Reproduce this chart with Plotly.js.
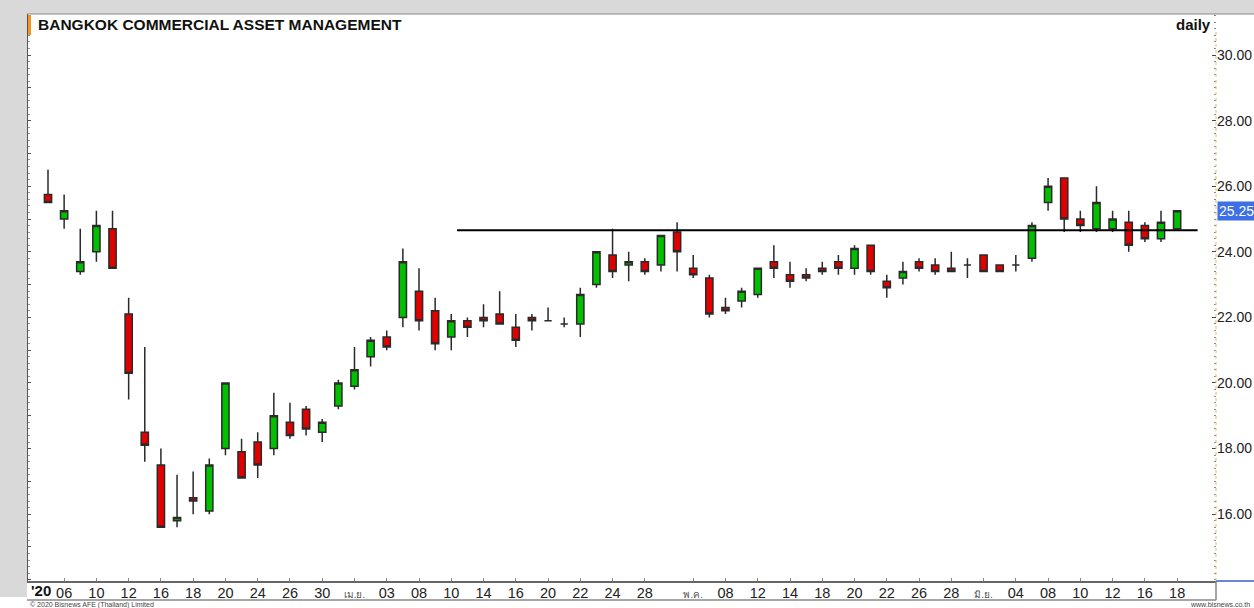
<!DOCTYPE html>
<html>
<head>
<meta charset="utf-8">
<script src="https://cdn.plot.ly/plotly-3.0.1.min.js"></script>
<style>html,body{margin:0;padding:0;background:#fff;}#chart{width:1254px;height:608px;}</style>
</head>
<body>
<div id="chart"></div>
<script>
const dates = ["2020-03-05","2020-03-06","2020-03-09","2020-03-10","2020-03-11","2020-03-12","2020-03-13","2020-03-16","2020-03-17","2020-03-18","2020-03-19","2020-03-20","2020-03-23","2020-03-24","2020-03-25","2020-03-26","2020-03-27","2020-03-30","2020-03-31","2020-04-01","2020-04-02","2020-04-03","2020-04-07","2020-04-08","2020-04-09","2020-04-10","2020-04-13","2020-04-14","2020-04-15","2020-04-16","2020-04-17","2020-04-20","2020-04-21","2020-04-22","2020-04-23","2020-04-24","2020-04-27","2020-04-28","2020-04-29","2020-04-30","2020-05-05","2020-05-07","2020-05-08","2020-05-11","2020-05-12","2020-05-13","2020-05-14","2020-05-15","2020-05-18","2020-05-19","2020-05-20","2020-05-21","2020-05-22","2020-05-25","2020-05-26","2020-05-27","2020-05-28","2020-05-29","2020-06-01","2020-06-02","2020-06-04","2020-06-05","2020-06-08","2020-06-09","2020-06-10","2020-06-11","2020-06-12","2020-06-15","2020-06-16","2020-06-17","2020-06-18"];
const openP  = [25.75,25.0,23.4,24.0,24.7,22.1,18.5,17.5,15.8,16.5,16.1,18.0,17.9,18.2,18.0,18.8,19.2,18.5,19.3,19.9,20.8,21.4,22.0,22.8,22.2,21.4,21.9,22.0,22.1,21.7,22.0,21.9,21.8,21.8,23.0,23.9,23.6,23.7,23.6,24.6,23.5,23.2,22.3,22.5,22.7,23.7,23.3,23.3,23.5,23.7,23.5,24.2,23.1,23.2,23.7,23.6,23.5,23.6,23.9,23.6,23.6,23.8,25.5,26.25,25.0,24.7,24.7,24.9,24.8,24.4,24.7];
const highP  = [26.5,25.75,24.7,25.25,25.25,22.6,21.1,18.0,17.2,17.3,17.7,20.0,18.3,18.5,19.7,19.4,19.3,18.9,20.1,21.1,21.4,21.6,24.1,23.5,22.6,22.1,22.0,22.4,22.8,22.1,22.1,22.3,22.0,22.9,24.0,24.7,24.0,23.8,24.5,24.9,23.9,23.3,22.6,22.9,23.5,24.2,23.7,23.5,23.7,23.9,24.2,24.2,23.3,23.7,23.8,23.8,24.0,23.8,23.9,23.6,23.9,24.9,26.25,26.25,25.25,26.0,25.25,25.25,24.9,25.25,25.25];
const lowP   = [25.5,24.7,23.3,23.7,23.5,19.5,17.6,15.6,15.6,16.0,16.0,17.8,17.1,17.1,17.8,18.3,18.4,18.2,19.2,19.8,20.5,21.0,21.7,21.6,21.0,21.0,21.4,21.7,21.8,21.1,21.6,21.9,21.7,21.4,22.9,23.2,23.1,23.3,23.4,23.4,23.2,22.0,22.1,22.3,22.6,23.2,22.9,23.1,23.3,23.3,23.3,23.3,22.6,23.0,23.4,23.3,23.4,23.2,23.4,23.4,23.4,23.7,25.25,24.6,24.6,24.6,24.6,24.0,24.3,24.3,24.7];
const closeP = [25.5,25.25,23.7,24.8,23.5,20.3,18.1,15.6,15.9,16.4,17.5,20.0,17.1,17.5,19.0,18.4,18.6,18.8,20.0,20.4,21.3,21.1,23.7,21.9,21.2,21.9,21.7,21.9,21.8,21.3,21.9,21.9,21.8,22.7,24.0,23.4,23.7,23.4,24.5,24.0,23.3,22.1,22.2,22.8,23.5,23.5,23.1,23.2,23.4,23.5,24.1,23.4,22.9,23.4,23.5,23.4,23.4,23.6,23.4,23.4,23.6,24.8,26.0,25.0,24.8,25.5,25.0,24.2,24.4,24.9,25.25];

const yearLabel = "'20";
const tickDates = ["2020-03-06","2020-03-10","2020-03-12","2020-03-16","2020-03-18","2020-03-20","2020-03-24","2020-03-26","2020-03-30","2020-04-01","2020-04-03","2020-04-08","2020-04-10","2020-04-14","2020-04-16","2020-04-20","2020-04-22","2020-04-24","2020-04-28","2020-05-05","2020-05-08","2020-05-12","2020-05-14","2020-05-18","2020-05-20","2020-05-22","2020-05-26","2020-05-28","2020-06-01","2020-06-04","2020-06-08","2020-06-10","2020-06-12","2020-06-16","2020-06-18"];
const tickLabels = ["06","10","12","16","18","20","24","26","30","เม.ย.","03","08","10","14","16","20","22","24","28","พ.ค.","08","12","14","18","20","22","26","28","มิ.ย.","04","08","10","12","16","18"];
const monthLabels = ["เม.ย.","พ.ค.","มิ.ย."];
const yTicks = [16,18,20,22,24,26,28,30];
const resistance = 24.66;
const lastPrice = 25.25;
const titleText = "BANGKOK COMMERCIAL ASSET MANAGEMENT";

const tickText = tickLabels.map(t => monthLabels.includes(t) ? '<span style="font-size:10px;color:#555">' + t + '</span>' : t);

const F = '"Liberation Sans", Arial, "DejaVu Sans", sans-serif';
// plot area in px: x 28..1216, y 14..581
const W = 1188, H = 567;
const px = x => (x - 28) / W;
const py = y => (581 - y) / H;

const trace = {
  type: 'candlestick',
  x: dates, open: openP, high: highP, low: lowP, close: closeP,
  increasing: {fillcolor: '#00c000', line: {color: '#2a2a2a', width: 1.5}},
  decreasing: {fillcolor: '#e00000', line: {color: '#2a2a2a', width: 1.5}},
  whiskerwidth: 0,
  hoverinfo: 'skip',
  showlegend: false
};

const layout = {
  width: 1254, height: 608,
  margin: {l: 28, r: 38, t: 14, b: 27, pad: 0},
  paper_bgcolor: '#ffffff', plot_bgcolor: '#ffffff',
  font: {family: F, size: 14, color: '#222'},
  boxgap: 0.36,
  showlegend: false,
  xaxis: {
    type: 'category', range: [-1.24, 72.41],
    tickvals: tickDates, ticktext: tickText,
    ticks: 'inside', ticklen: 3, tickcolor: '#888',
    ticklabelstandoff: -2,
    showgrid: false, zeroline: false,
    showline: true, linecolor: '#666', linewidth: 1.5,
    tickfont: {family: F, size: 14.5, color: '#222'},
    tickangle: 0,
    rangeslider: {visible: false},
    fixedrange: true
  },
  yaxis: {
    side: 'right', range: [13.963, 31.25],
    tickvals: yTicks, tickformat: '.2f',
    ticks: 'inside', ticklen: 4, tickcolor: '#444',
    minor: {dtick: 0.2, tick0: 0, ticks: 'inside', ticklen: 2, tickcolor: '#888', showgrid: false},
    showgrid: false, zeroline: false, showline: false,
    tickfont: {family: F, size: 14, color: '#222'},
    fixedrange: true
  },
  yaxis2: {
    overlaying: 'y', side: 'left', range: [13.963, 31.25],
    dtick: 1, tick0: 0, ticks: 'inside', ticklen: 3, tickcolor: '#555',
    minor: {dtick: 0.2, tick0: 0, ticks: 'inside', ticklen: 1.5, tickcolor: '#999', showgrid: false},
    showticklabels: false, showgrid: false, zeroline: false,
    showline: true, linecolor: '#555', linewidth: 1.5,
    fixedrange: true
  },
  shapes: [
    {type: 'rect', xref: 'paper', yref: 'paper', x0: px(0), x1: px(27), y0: py(597), y1: py(0), fillcolor: '#d9d9d9', line: {width: 0}, layer: 'above'},
    {type: 'rect', xref: 'paper', yref: 'paper', x0: px(0), x1: px(1254), y0: py(14), y1: py(0), fillcolor: '#d9d9d9', line: {width: 0}, layer: 'above'},
    {type: 'line', xref: 'paper', yref: 'paper', x0: px(27), x1: px(1254), y0: py(14), y1: py(14), line: {color: '#888', width: 1}},
    {type: 'line', xref: 'paper', yref: 'paper', x0: px(27), x1: px(1216), y0: py(600), y1: py(600), line: {color: '#888', width: 1.5}},
    {type: 'line', xref: 'paper', yref: 'paper', x0: 1, x1: 1, y0: py(600), y1: py(581), line: {color: '#888', width: 1.5}},
    {type: 'line', xref: 'paper', yref: 'paper', x0: 1, x1: px(1254), y0: py(581), y1: py(581), line: {color: '#3b5bc4', width: 1.5}},
    {type: 'line', xref: 'paper', yref: 'paper', x0: 1, x1: 1, y0: 0, y1: py(30), line: {color: '#e3bf63', width: 1, dash: 'dot'}},
    {type: 'rect', xref: 'paper', yref: 'paper', x0: px(28), x1: px(31), y0: py(35), y1: py(15), fillcolor: '#f7941d', line: {width: 0}},
    {type: 'line', xref: 'x', yref: 'y', x0: 25.36, x1: 71.27, y0: resistance, y1: resistance, line: {color: '#000', width: 2}}
  ],
  annotations: [
    {text: '<b>' + titleText + '</b>', xref: 'paper', yref: 'paper', x: px(36), y: py(24), xanchor: 'left', yanchor: 'middle', showarrow: false, font: {family: F, size: 15.5, color: '#111'}},
    {text: '<b>daily</b>', xref: 'paper', yref: 'paper', x: px(1213), y: py(24), xanchor: 'right', yanchor: 'middle', showarrow: false, font: {family: F, size: 15, color: '#111'}},
    {text: '<b>' + yearLabel + '</b>', xref: 'paper', yref: 'paper', x: px(41), y: py(590), xanchor: 'center', yanchor: 'middle', showarrow: false, font: {family: F, size: 15, color: '#111'}},
    {text: lastPrice.toFixed(2), xref: 'paper', yref: 'y', x: 1, y: lastPrice, xanchor: 'left', yanchor: 'middle', xshift: 1, showarrow: false, bgcolor: '#3d6fe6', borderpad: 1, font: {family: F, size: 14, color: '#ffffff'}},
    {text: '© 2020 Bisnews AFE (Thailand) Limited', xref: 'paper', yref: 'paper', x: px(28), y: py(604.5), xanchor: 'left', yanchor: 'middle', showarrow: false, font: {family: F, size: 7, color: '#444'}},
    {text: 'www.bisnews.co.th', xref: 'paper', yref: 'paper', x: px(1252), y: py(604.5), xanchor: 'right', yanchor: 'middle', showarrow: false, font: {family: F, size: 7, color: '#444'}}
  ]
};

const dummy = {type: 'scatter', x: [dates[0]], y: [null], yaxis: 'y2', showlegend: false, hoverinfo: 'skip'};

Plotly.newPlot('chart', [trace, dummy], layout, {staticPlot: true, displayModeBar: false});
</script>
</body>
</html>
